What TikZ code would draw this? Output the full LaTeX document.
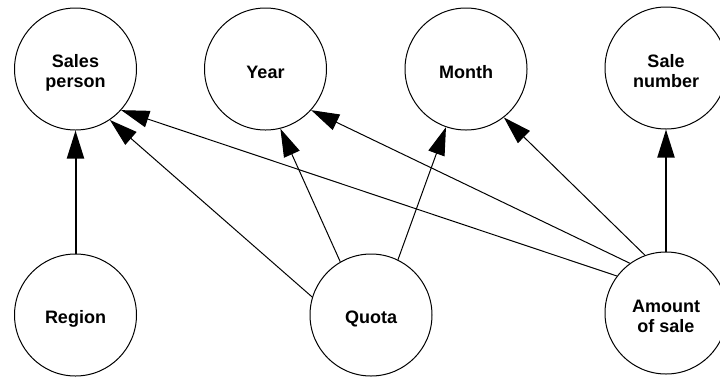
\documentclass[tikz,border=0pt]{standalone}
\usepackage{fontspec}
\setmainfont{Liberation Sans}
\usetikzlibrary{arrows.meta}

\begin{document}
\begin{tikzpicture}[x=1pt,y=1pt,
  entity/.style={circle, draw, line width=1pt, minimum size=122pt, inner sep=0pt,
    label={[align=center, yshift=-3.5pt, font=\fontsize{18}{20}\selectfont\bfseries]center:#1}},
  link/.style={line width=1pt, -{Triangle[length=28pt,width=17pt]}},
  boldlink/.style={line width=2pt, -{Triangle[length=28pt,width=17pt]}}]
  \useasboundingbox (0,0) rectangle (720,-376);

  % top row
  \node[entity={Sales\\person}] (sp) at (75.5,-69)  {};
  \node[entity={Year}]          (yr) at (265.5,-69) {};
  \node[entity={Month}]         (mo) at (466,-69)   {};
  \node[entity={Sale\\number}]  (sn) at (666,-68)   {};

  % bottom row
  \node[entity={Region}]        (rg) at (75.5,-315) {};
  \node[entity={Quota}]         (qu) at (371,-315)  {};
  \node[entity={Amount\\of sale}] (am) at (666,-313) {};

  % dependencies
  \draw[boldlink] (rg.90)    -- (sp.-90);
  \draw[link]     (qu.163.6) -- (sp.-56);
  \draw[link]     (am.143.7) -- (sp.-42.8);
  \draw[link]     (qu.120.3) -- (yr.-76);
  \draw[link]     (am.126.1) -- (yr.-42.7);
  \draw[link]     (qu.64.7)  -- (mo.-109);
  \draw[link]     (am.110.2) -- (mo.-52);
  \draw[boldlink] (am.90)    -- (sn.-90);
\end{tikzpicture}
\end{document}
